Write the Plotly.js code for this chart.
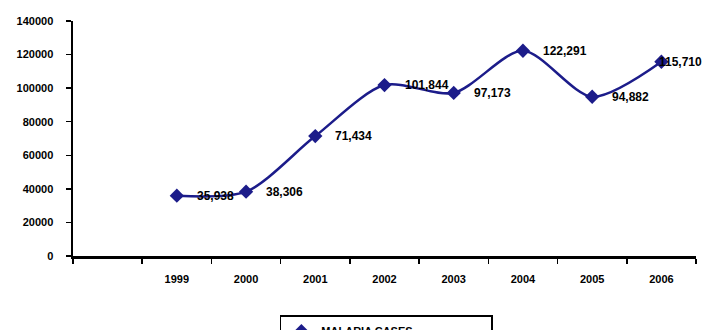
<!DOCTYPE html>
<html>
<head>
<meta charset="utf-8">
<script src="https://cdn.plot.ly/plotly-3.0.1.min.js"></script>
<style>
  html, body { margin: 0; padding: 0; background: #fff; }
  #chart { width: 705px; height: 330px; }
</style>
</head>
<body>
<div id="chart"></div>
<script>
// Yearly malaria case counts
const categories = [" ", "1999", "2000", "2001", "2002", "2003", "2004", "2005", "2006"];
const years = ["1999", "2000", "2001", "2002", "2003", "2004", "2005", "2006"];
const cases = [35938, 38306, 71434, 101844, 97173, 122291, 94882, 115710];
const yTicks = [0, 20000, 40000, 60000, 80000, 100000, 120000, 140000];

const labelFont = { family: "Liberation Sans, Arial, sans-serif", size: 12, color: "#000", weight: "bold" };

const trace = {
  x: years,
  y: cases,
  type: "scatter",
  mode: "lines+markers",
  name: "MALARIA CASES",
  line: { color: "#1c1c8a", width: 2.5, shape: "spline", smoothing: 0.8 },
  marker: { symbol: "diamond", size: 11, color: "#1c1c8a" },
  cliponaxis: false
};

// value labels to the right of each point; the last one sits tight to the edge
const annotations = years.map((yr, i) => ({
  x: categories.indexOf(yr),
  y: cases[i],
  xref: "x",
  yref: "y",
  text: cases[i].toLocaleString("en-US"),
  showarrow: false,
  xanchor: "left",
  yanchor: "middle",
  xshift: i === years.length - 1 ? -4 : 18,
  font: labelFont
}));

const layout = {
  width: 705,
  height: 330,
  margin: { l: 73, r: 9, t: 21, b: 74, autoexpand: false },
  paper_bgcolor: "#fff",
  plot_bgcolor: "#fff",
  font: { family: "Liberation Sans, Arial, sans-serif", color: "#000" },
  showlegend: true,
  annotations: annotations,
  legend: {
    orientation: "h",
    xref: "paper",
    yref: "container",
    x: 0.503, xanchor: "center",
    y: 0.045, yanchor: "top",
    bordercolor: "#000",
    borderwidth: 1.5,
    entrywidth: 165,
    font: { family: "Liberation Sans, Arial, sans-serif", size: 11, color: "#000", weight: "bold" }
  },
  xaxis: {
    type: "category",
    categoryorder: "array",
    categoryarray: categories,
    tickvals: categories,
    ticktext: categories,
    range: [-0.5, 8.5],
    tickson: "boundaries",
    ticks: "outside",
    ticklen: 5,
    tickwidth: 1.5,
    tickcolor: "#000",
    showline: true,
    linecolor: "#000",
    linewidth: 2.5,
    showgrid: false,
    zeroline: false,
    fixedrange: true,
    ticklabelstandoff: 11,
    tickfont: { size: 11, color: "#000", weight: "bold" }
  },
  yaxis: {
    range: [0, 140000],
    tickvals: yTicks,
    ticktext: yTicks.map(String),
    ticks: "outside",
    ticklen: 5,
    tickwidth: 1.5,
    tickcolor: "#000",
    showline: true,
    linecolor: "#000",
    linewidth: 2.5,
    showgrid: false,
    zeroline: false,
    fixedrange: true,
    ticklabelstandoff: 10,
    tickfont: { size: 11, color: "#000", weight: "bold" }
  }
};

Plotly.newPlot("chart", [trace], layout, { staticPlot: true, displayModeBar: false });
</script>
</body>
</html>
